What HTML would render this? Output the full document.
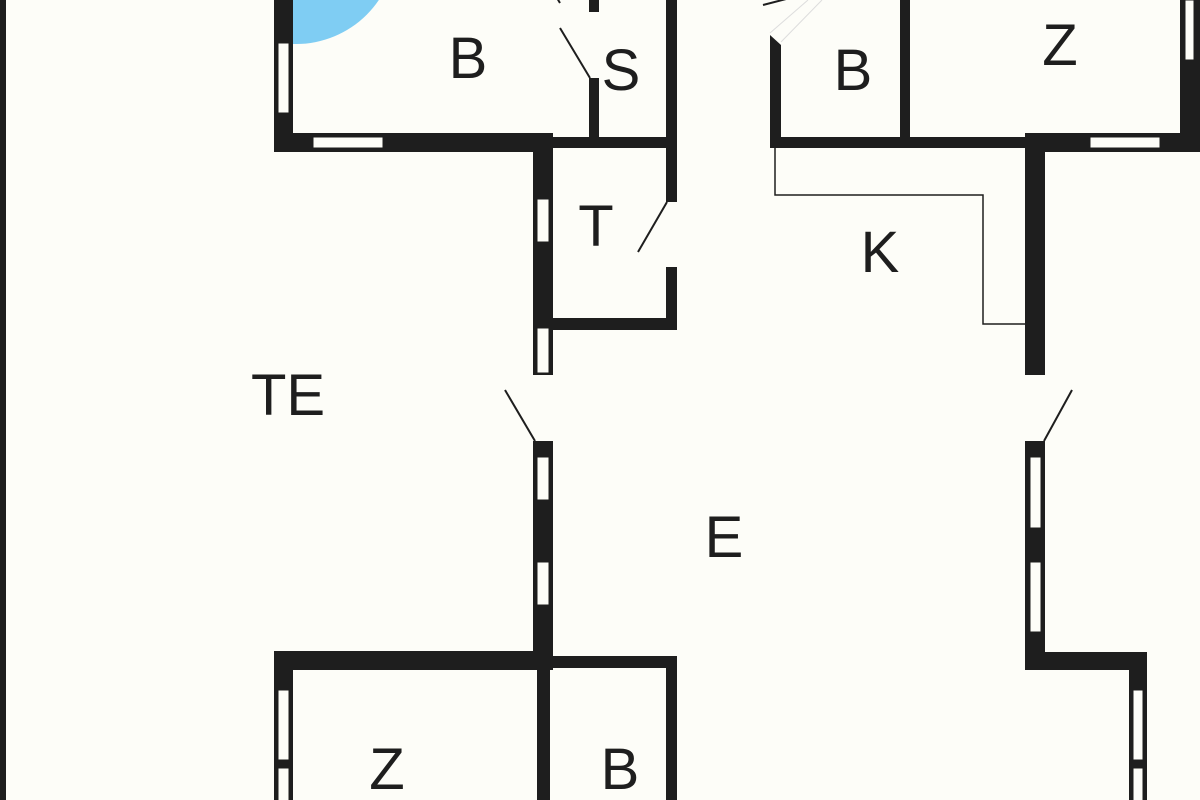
<!DOCTYPE html>
<html><head><meta charset="utf-8"><style>html,body{margin:0;padding:0;background:#fdfdf8}svg{display:block}</style></head><body>
<svg width="1200" height="800" viewBox="0 0 1200 800" xmlns="http://www.w3.org/2000/svg">
<defs><clipPath id="rc"><rect x="293" y="0" width="300" height="140"/></clipPath></defs>
<rect width="1200" height="800" fill="#fdfdf8"/>
<circle cx="296" cy="-56" r="100" fill="#7fcdf3" clip-path="url(#rc)"/>
<g fill="#1e1e1e">
<rect x="0" y="0" width="6" height="800"/>
<rect x="274" y="0" width="19" height="152"/>
<rect x="274" y="133" width="279" height="19"/>
<rect x="589" y="0" width="10" height="12"/>
<rect x="589" y="78" width="10" height="70"/>
<rect x="553" y="137" width="124" height="11"/>
<rect x="666" y="0" width="11" height="202"/>
<rect x="666" y="267" width="11" height="63"/>
<rect x="553" y="318" width="124" height="12"/>
<rect x="533" y="133" width="20" height="242"/>
<rect x="533" y="441" width="20" height="229"/>
<rect x="274" y="651" width="276" height="19"/>
<rect x="548" y="656" width="129" height="12"/>
<rect x="274" y="651" width="19" height="149"/>
<rect x="537" y="652" width="13" height="148"/>
<rect x="666" y="656" width="11" height="144"/>
<path d="M770 35 L781 45 L781 148 L770 148 Z"/>
<rect x="900" y="0" width="10" height="140"/>
<rect x="770" y="137" width="260" height="11"/>
<rect x="1025" y="133" width="175" height="19"/>
<rect x="1180" y="0" width="20" height="152"/>
<rect x="1025" y="133" width="20" height="242"/>
<rect x="1025" y="441" width="20" height="229"/>
<rect x="1025" y="652" width="122" height="18"/>
<rect x="1129" y="652" width="18" height="148"/>
</g>
<g fill="#fdfdf8" stroke="#1e1e1e" stroke-width="1">
<rect x="278" y="43" width="11" height="70"/>
<rect x="313" y="137" width="70" height="11"/>
<rect x="537" y="199" width="12" height="43"/>
<rect x="537" y="328" width="12" height="45"/>
<rect x="537" y="457" width="12" height="43"/>
<rect x="537" y="562" width="12" height="43"/>
<rect x="278" y="690" width="11" height="70"/>
<rect x="278" y="768" width="11" height="40"/>
<rect x="1090" y="137" width="70" height="11"/>
<rect x="1185" y="0" width="9" height="60"/>
<rect x="1030" y="457" width="11" height="71"/>
<rect x="1030" y="562" width="11" height="70"/>
<rect x="1133" y="690" width="10" height="70"/>
<rect x="1133" y="768" width="10" height="40"/>
</g>
<g stroke="#1e1e1e" stroke-width="2" fill="none">
<line x1="560" y1="28" x2="590" y2="78"/>
<line x1="638" y1="252" x2="667" y2="202"/>
<line x1="505" y1="390" x2="535" y2="441"/>
<line x1="1072" y1="390" x2="1044" y2="441"/>
<line x1="763" y1="5" x2="790" y2="-2"/>
<line x1="557" y1="-2" x2="560" y2="3"/>
<polyline stroke-width="1.5" points="775,148 775,195 983,195 983,324 1025,324"/>
</g>
<g stroke="#ddd" stroke-width="1">
<line x1="781" y1="42" x2="822" y2="0"/><line x1="770" y1="33" x2="808" y2="0"/>
</g>
<g font-family="Liberation Sans, sans-serif" font-size="58" fill="#1e1e1e" text-anchor="middle">
<text x="468" y="78">B</text>
<text x="621" y="90">S</text>
<text x="596" y="246">T</text>
<text x="288" y="415">TE</text>
<text x="724" y="557">E</text>
<text x="880" y="272">K</text>
<text x="1060" y="65">Z</text>
<text x="853" y="90">B</text>
<text x="387" y="789">Z</text>
<text x="620" y="789">B</text>
</g>
</svg>
</body></html>
